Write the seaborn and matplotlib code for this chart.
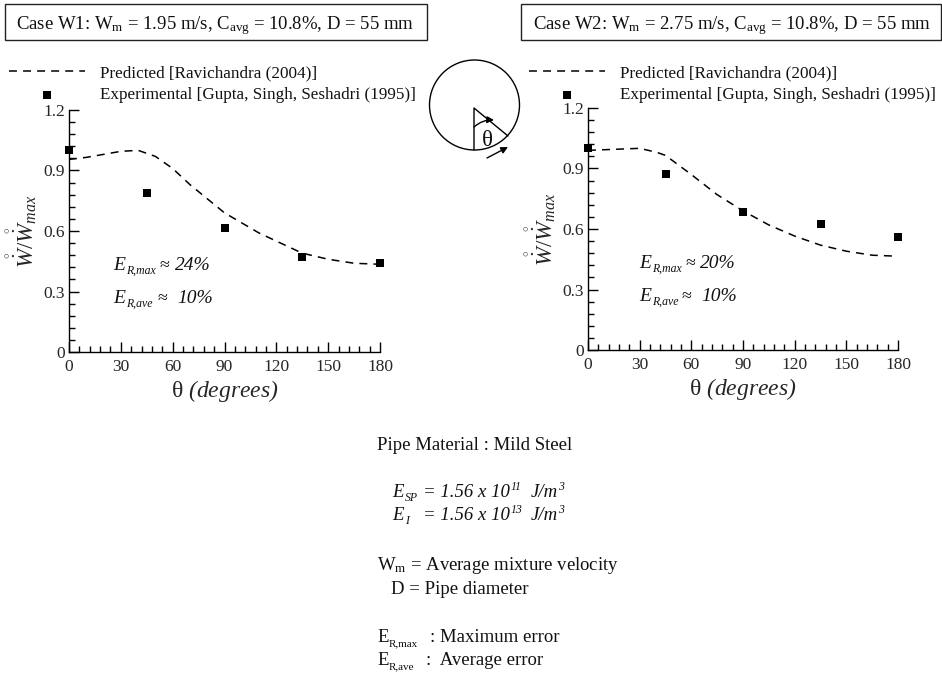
import matplotlib
matplotlib.use("Agg")
import matplotlib.pyplot as plt
from matplotlib.patches import Circle, FancyArrowPatch, Rectangle
from matplotlib.ticker import MultipleLocator
import seaborn as sns

sns.set_theme(style="ticks")
plt.rcParams["font.family"] = ["Liberation Serif", "DejaVu Serif"]
plt.rcParams["mathtext.fontset"] = "custom"
plt.rcParams["mathtext.rm"] = "Liberation Serif"
plt.rcParams["mathtext.it"] = "Liberation Serif:italic"
# \mathsf se usa para tener digitos en cursiva
plt.rcParams["mathtext.sf"] = "Liberation Serif:italic"

# curva predicha, caso W1
w1_theta = [0, 10, 20, 30, 40, 50, 60, 70, 80, 90, 100, 110, 120, 135, 150, 165, 180]
w1_pred = [0.955, 0.965, 0.98, 0.995, 1.0, 0.97, 0.91, 0.83, 0.76, 0.69, 0.64, 0.59, 0.55, 0.49, 0.46, 0.44, 0.435]
# curva predicha, caso W2
w2_theta = [0, 15, 30, 40, 45, 60, 75, 90, 105, 120, 135, 150, 165, 180]
w2_pred = [0.99, 0.995, 1.0, 0.98, 0.965, 0.87, 0.77, 0.69, 0.62, 0.565, 0.52, 0.49, 0.47, 0.465]
# puntos experimentales
exp_theta = [0, 45, 90, 135, 180]
w1_exp = [1.0, 0.79, 0.615, 0.47, 0.44]
w2_exp = [1.0, 0.875, 0.685, 0.625, 0.56]

lbl_pred = "Predicted [Ravichandra (2004)]"
lbl_exp = "Experimental [Gupta, Singh, Seshadri (1995)]"

W, H = 942, 677
fig = plt.figure(figsize=(W / 100, H / 100), dpi=100)


def panel(x0, x1, y0, y1, theta, pred, expd, leg_x, leg_y):
    ax = fig.add_axes([x0 / W, (H - y0) / H, (x1 - x0) / W, (y0 - y1) / H])
    sns.lineplot(x=theta, y=pred, ax=ax, color="black", lw=1.1, label=lbl_pred,
                 linestyle=(0, (5.2, 4)), clip_on=False)
    sns.scatterplot(x=exp_theta, y=expd, ax=ax, color="black", marker="s", s=36,
                    linewidth=0, label=lbl_exp, clip_on=False, zorder=5)
    ax.set_xlim(0, 180)
    ax.set_ylim(0, 1.2)
    ax.set_xticks([0, 30, 60, 90, 120, 150, 180])
    ax.set_yticks([0, 0.3, 0.6, 0.9, 1.2])
    ax.set_yticklabels(["0", "0.3", "0.6", "0.9", "1.2"])
    ax.xaxis.set_minor_locator(MultipleLocator(6))
    ax.yaxis.set_minor_locator(MultipleLocator(0.06))
    ax.tick_params(which="major", direction="in", length=7, width=1, labelsize=12.5, pad=5, color="black")
    ax.tick_params(which="minor", direction="in", length=4, width=1, color="black")
    ax.tick_params(axis="y", which="major", pad=3)
    ax.set_facecolor("none")
    sns.despine(ax=ax)
    for s in ["left", "bottom"]:
        ax.spines[s].set_linewidth(1)
        ax.spines[s].set_color("black")
    ax.set_xlabel(r"$\mathrm{\theta}$ $\mathsf{(degrees)}$", fontsize=17, labelpad=2)
    ax.set_ylabel(r"$\mathring{\dot{\mathit{W}}}/\mathring{\dot{\mathit{W}}}_{\mathit{max}}$", fontsize=16.5, labelpad=3)
    ax.legend(loc="upper left", bbox_to_anchor=(leg_x / W, (H - leg_y) / H),
              bbox_transform=fig.transFigure, frameon=False, fontsize=12.3,
              handlelength=4.45, handletextpad=0.9, labelspacing=0.36,
              borderpad=0, borderaxespad=0, labelcolor="#111111")
    return ax


ax1 = panel(69, 380, 352, 110, w1_theta, w1_pred, w1_exp, 9, 65)
ax2 = panel(588, 898, 350, 108, w2_theta, w2_pred, w2_exp, 529, 65)

# capa de anotaciones en pixeles
ov = fig.add_axes([0, 0, 1, 1], zorder=10)
ov.set_xlim(0, W)
ov.set_ylim(H, 0)
ov.axis("off")


def txt(x, y, s, size=13.5, **kw):
    ov.text(x, y, s, fontsize=size, va="baseline", ha="left", color="#111111", **kw)


def err(x, y, sub, ax_x, val, val_x):
    txt(x, y, "E", 14, style="italic")
    txt(x + 13, y + 4, sub, 8.5, style="italic")
    txt(ax_x, y, "≈", 13)
    txt(val_x, y, val, 14, style="italic")


ov.add_patch(Rectangle((5, 4), 422, 36, fill=False, ec="#222222", lw=1))
ov.add_patch(Rectangle((521, 4), 420, 36, fill=False, ec="#222222", lw=1))
txt(16, 29, r"Case W1: W$_{\mathrm{m}}$ = 1.95 m/s, C$_{\mathrm{avg}}$ = 10.8%, D = 55 mm")
txt(533, 29, r"Case W2: W$_{\mathrm{m}}$ = 2.75 m/s, C$_{\mathrm{avg}}$ = 10.8%, D = 55 mm")

# esquema de la tuberia
ov.add_patch(Circle((474.5, 105), 45, fill=False, ec="black", lw=1))
ov.plot([474, 474, 508], [150, 108, 136], color="black", lw=1)
ov.add_patch(FancyArrowPatch((474, 127), (494, 120), connectionstyle="arc3,rad=-0.2",
                             arrowstyle="-|>", mutation_scale=10, color="black", lw=1, shrinkA=0, shrinkB=0))
ov.add_patch(FancyArrowPatch((487, 158), (508, 147), arrowstyle="-|>", mutation_scale=10,
                             color="black", lw=1, shrinkA=0, shrinkB=0))
txt(481, 146, r"$\mathrm{\theta}$", 16.5)

# errores de cada caso
err(113, 270, "R,max", 160, "24%", 175)
err(113, 303, "R,ave", 157, "10%", 177)
err(639, 268, "R,max", 685, "20%", 700)
err(639, 301, "R,ave", 681, "10%", 701)

# notas de abajo
txt(377, 450, "Pipe Material : Mild Steel")
for y, sub, sup in [(497, "SP", "11"), (520, "I", "13")]:
    txt(392, y, "E", style="italic")
    txt(405, y + 4, sub, 8.5, style="italic")
    txt(423, y, "= 1.56 x 10", style="italic")
    txt(511, y - 7, sup, 8.5, style="italic")
    txt(531, y, "J/m", style="italic")
    txt(558, y - 7, "3", 8.5, style="italic")
txt(377, 570, r"W$_{\mathrm{m}}$ = Average mixture velocity")
txt(391, 594, "D = Pipe diameter")
txt(377, 642, "E")
txt(389, 646, "R,max", 8)
txt(430, 642, ": Maximum error")
txt(377, 665, "E")
txt(389, 669, "R,ave", 8)
txt(426, 665, ":  Average error")

plt.savefig("out.png", dpi=100)
